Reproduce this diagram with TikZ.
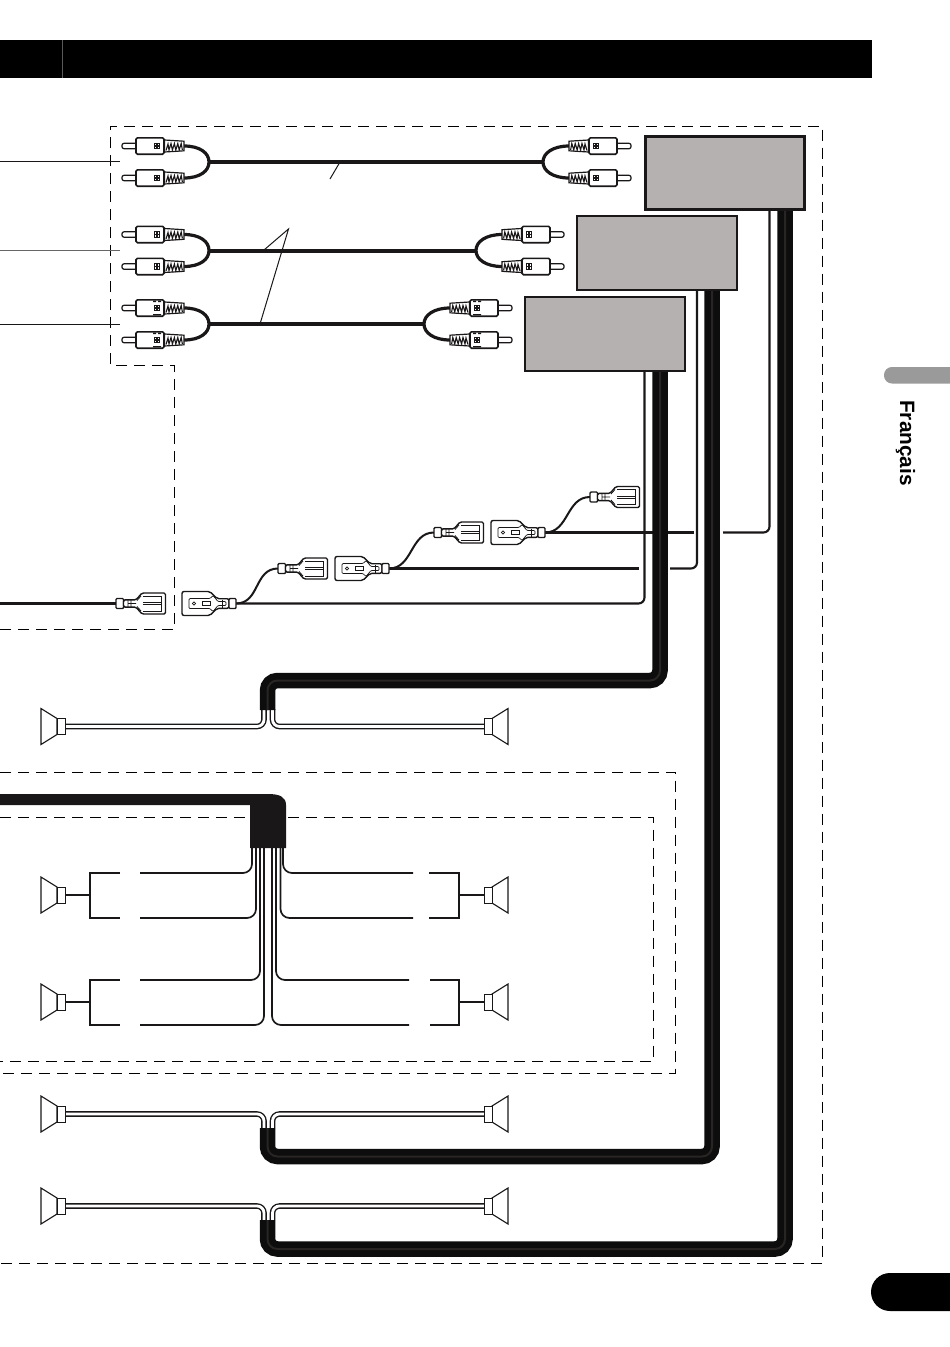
\documentclass[tikz,border=0pt]{standalone}
\usepackage{fontspec}
\setmainfont{Liberation Sans}
\definecolor{ink}{HTML}{1A1718}
\definecolor{ampfill}{HTML}{B5B1B0}
\definecolor{tabgray}{HTML}{9A9A9A}
\definecolor{stripe}{HTML}{282524}
\tikzset{
  ampbox/.style={draw=ink,fill=ampfill,line width=2pt,inner sep=0,outer sep=0,minimum width=160pt,minimum height=74pt,anchor=north west},
  dashline/.style={draw=black,line width=0.9pt,dash pattern=on 11pt off 7pt},
  thinline/.style={draw=ink,line width=1pt},
  hookup/.style={draw=ink,line width=2.1pt,rounded corners=6pt},
  rcacable/.style={draw=ink,line width=3.2pt},
  bigcable/.style={draw=black!95,line width=15.5pt,rounded corners=10pt},
  bigstripe/.style={draw=stripe,line width=2pt,rounded corners=10pt},
  dualout/.style={draw=ink,line width=5.6pt,rounded corners=7pt},
  dualin/.style={draw=white,line width=2.8pt,rounded corners=7pt},
  leadwire/.style={draw=ink,line width=1.7pt,rounded corners=9pt},
  bracket/.style={draw=ink,line width=1.9pt},
  rca/.pic={
    \draw[ink,fill=white,line width=1.2pt,rounded corners=2pt] (-62,-2.7) rectangle (-46,2.7);
    \draw[ink,fill=white,line width=1.6pt,rounded corners=1.5pt] (-48,-8.2) rectangle (-20,8.2);
    \fill[ink] (-30,-3.4) rectangle (-23.6,3.4);
    \foreach \a in {-1.5,1.5}\foreach \b in {-1.5,1.5}\fill[white] (-26.8+\a-.6,\b-.6) rectangle (-26.8+\a+.6,\b+.6);
    \draw[ink,fill=white,line width=1.2pt] (-19.5,-6) -- (0,-4.8) -- (0,4.8) -- (-19.5,6) -- cycle;
    \draw[ink,line width=1.1pt] (-18,4.5) -- (-16,-2) -- (-15,4) -- (-13,-2.5) -- (-11.6,4) -- (-9.6,-2.5) -- (-8.2,4) -- (-6.2,-2.5) -- (-4.8,4) -- (-2.8,-2.5) -- (-1.6,4);
  },
  rcatick/.pic={
    \fill[ink] (-31,-7.4) rectangle (-28,-6) (-26,-7.4) rectangle (-23,-6) (-31,6) rectangle (-23,7.4);
  },
  femalefuse/.pic={
    \draw[ink,fill=white,line width=1.4pt,rounded corners=1pt] (0,-5) rectangle (7.5,5);
    \draw[ink,fill=white,line width=1.4pt,rounded corners=1.5pt]
      (7.5,-3.6) -- (20,-3.6) -- (26,-10.5) -- (49.5,-10.5) -- (49.5,10.5) -- (26,10.5) -- (20,3.6) -- (7.5,3.6) -- cycle;
    \draw[ink,line width=.8pt] (27,-7.5) -- (45,-7.5) -- (45,7.5) -- (27,7.5) (27,-1) -- (45,-1) (27,1) -- (45,1);
    \draw[ink,line width=.8pt] (12,-3.4) -- (12,3.4) (15,-3.4) -- (15,3.4) (21,-3) -- (25,-7.5) (21,3) -- (25,7.5) (12,0) -- (20,0);
  },
  malefuse/.pic={
    \draw[ink,fill=white,line width=1.4pt,rounded corners=2pt]
      (0,-12) -- (28,-12) -- (35,-4.8) -- (47,-4.8) -- (47,4.8) -- (35,4.8) -- (28,12) -- (0,12) -- cycle;
    \draw[ink,fill=white,line width=1.4pt,rounded corners=1pt] (47,-5) rectangle (54,5);
    \draw[ink,line width=.7pt,rounded corners=1pt] (7,-5) -- (28,-5) -- (31,-8) -- (36,-2) -- (44,-2) -- (44,2) -- (36,2) -- (31,8) -- (28,5) -- (7,5) -- cycle;
    \draw[ink,line width=.7pt] (12,0) circle (1.6);
    \draw[ink,line width=.7pt] (20,-2) rectangle (28,2);
    \draw[ink,line width=.7pt] (40,-4) -- (40,4);
  },
  speaker/.pic={
    \draw[ink,fill=white,line width=1.1pt,line join=miter] (0,-18) -- (16,-8) -- (16,8) -- (0,18) -- cycle;
    \draw[ink,fill=white,line width=1pt] (16,-8) rectangle (24,8);
  },
}
\begin{document}
\begin{tikzpicture}[x=1pt,y=-1pt]
\useasboundingbox (0,0) rectangle (950,1347);
% header and page furniture
\node[fill=black,inner sep=0,outer sep=0,minimum width=872pt,minimum height=38pt,anchor=north west] (hdr) at (0,40) {};
\coordinate (hs) at (62.5,40); \coordinate (he) at (62.5,78);
\draw[black!65,line width=.7pt] (hs) -- (he);
\fill[tabgray,rounded corners=7.9pt] (884,367) rectangle (960,383.5);
\fill[black,rounded corners=19pt] (871,1273) rectangle (985,1311);
\node[rotate=-90,anchor=base west,inner sep=0,font=\bfseries\fontsize{20.8}{22}\selectfont] (lang) at (900,400) {Français};
% dashed frames
\coordinate (o1) at (110,365); \coordinate (o2) at (110,126); \coordinate (o3) at (822.5,126); \coordinate (o4) at (822.5,1263);
\coordinate (o5) at (0,1263); \coordinate (o6) at (174.5,365); \coordinate (o7) at (174.5,629); \coordinate (o8) at (0,629);
\draw[dashline] (o8) -- (o7) -- (o6) -- (o1) -- (o2) -- (o3) -- (o4) -- (o5);
\coordinate (p1) at (0,772); \coordinate (p2) at (675.5,772); \coordinate (p3) at (675.5,1073); \coordinate (p4) at (0,1073);
\draw[dashline] (p1) -- (p2) -- (p3) -- (p4);
\coordinate (q1) at (0,817); \coordinate (q2) at (653.5,817); \coordinate (q3) at (653.5,1061); \coordinate (q4) at (0,1061);
\draw[dashline] (q1) -- (q2) -- (q3) -- (q4);
% thin lines into the frame
\coordinate (t1) at (0,161); \coordinate (t1e) at (120,161);
\coordinate (t2) at (0,250); \coordinate (t2e) at (120,250);
\coordinate (t3) at (0,324); \coordinate (t3e) at (120,324);
\draw[thinline] (t1) -- (t1e); \draw[thinline,black!60] (t2) -- (t2e); \draw[thinline] (t3) -- (t3e);
% RCA cables
\foreach \n/\yc/\rx/\lw in {a/162/543/3.2,b/250.5/476/4,c/324/424/3.4}{
  \coordinate (l\n) at (209,\yc);
  \coordinate (r\n) at (\rx,\yc);
  \draw[rcacable,line width=\lw pt] (l\n) -- (r\n);
  \draw[rcacable] (184,\yc-16) .. controls (200,\yc-16) and (209,\yc-9) .. (l\n) .. controls (209,\yc+9) and (200,\yc+16) .. (184,\yc+16);
  \draw[rcacable] (\rx+26,\yc-16) .. controls (\rx+10,\yc-16) and (\rx,\yc-9) .. (r\n) .. controls (\rx,\yc+9) and (\rx+10,\yc+16) .. (\rx+26,\yc+16);
  \pic at (184,\yc-16) {rca};
  \pic at (184,\yc+16) {rca};
  \pic[xscale=-1] at (\rx+26,\yc-16) {rca};
  \pic[xscale=-1] at (\rx+26,\yc+16) {rca};
}
\pic at (184,308) {rcatick}; \pic at (184,340) {rcatick};
\pic[xscale=-1] at (450,308) {rcatick}; \pic[xscale=-1] at (450,340) {rcatick};
% label leaders
\coordinate (k0) at (330,179); \draw[thinline] (k0) -- (340,162);
\coordinate (k1) at (288.5,229); \coordinate (k2) at (264,250); \coordinate (k3) at (260,324);
\draw[thinline] (k2) -- (k1) -- (k3);
% amplifiers
\node[ampbox,line width=3pt,minimum width=159pt,minimum height=73pt] (amp1) at (645,136.5) {};
\node[ampbox] (amp2) at (576.5,216) {};
\node[ampbox] (amp3) at (524.5,297) {};
% hookup wires
\coordinate (w0) at (0,603.5);
\coordinate (f1) at (116,603.5); \coordinate (m1) at (236,603.5);
\coordinate (f2) at (278,568.5); \coordinate (m2) at (389,568.5);
\coordinate (f3) at (434,532.5); \coordinate (m3) at (545,532.5);
\coordinate (f4) at (590,497); 
\draw[hookup] (w0) -- (f1);
\draw[hookup] (m1) -- (644.5,603.5) -- (644.5,371);
\draw[hookup] (m2) -- (639,568.5);
\draw[hookup] (670,568.5) -- (697,568.5) -- (697,290);
\draw[hookup] (m3) -- (694,532.5);
\draw[hookup] (723,532.5) -- (769.5,532.5) -- (769.5,210);
\foreach \a/\b in {m1/f2,m2/f3,m3/f4}{
  \draw[ink,line width=2pt] (\a) .. controls ++(24,0) and ++(-24,0) .. (\b);
}
\pic at (f1) {femalefuse}; \pic at (f2) {femalefuse}; \pic at (f3) {femalefuse}; \pic at (f4) {femalefuse};
\pic at (182,603.5) {malefuse}; \pic at (335,568.5) {malefuse}; \pic at (491,532.5) {malefuse};
% speakers with double wires
\foreach \ys/\jy in {726.5/709,1114/1128,1206/1220}{
  \coordinate (sl) at (65,\ys); \coordinate (sr) at (484,\ys);
  \coordinate (jl) at (264,\jy); \coordinate (jr) at (272.5,\jy);
  \draw[dualout] (sl) -| (jl); \draw[dualin] (sl) -| (jl);
  \draw[dualout] (sr) -| (jr); \draw[dualin] (sr) -| (jr);
  \pic at (41,\ys) {speaker};
  \pic[xscale=-1] at (508,\ys) {speaker};
}
% speaker cables
\foreach \x/\top/\yb/\ye in {660/371/680.5/710,712/290/1156.5/1128,785/210/1249/1220}{
  \coordinate (ca) at (\x,\top); \coordinate (cb) at (\x,\yb); \coordinate (cc) at (267.5,\yb); \coordinate (cd) at (267.5,\ye);
  \draw[bigcable] (ca) -- (cb) -- (cc) -- (cd);
  \draw[bigstripe] (ca) -- (cb) -- (cc) -- (cd);
}
% amp frames redrawn over cable tops
\draw[ink,line width=3pt] (amp1.south west) -- (amp1.south east);
\draw[ink,line width=2pt] (amp2.south west) -- (amp2.south east);
\draw[ink,line width=2pt] (amp3.south west) -- (amp3.south east);
% centre junction
\foreach \x/\y/\xe in {252/873/140,256/918/140,260/980/140,264/1025/140,283/873/413,280.5/918/413,276/980/409,272/1025/409}{
  \coordinate (wa) at (\x,846); \coordinate (wb) at (\xe,\y);
  \draw[leadwire] (wa) |- (wb);
}
\fill[ink] (0,794) -- (268,794) .. controls (280,794) and (286,797) .. (286,805) -- (286,848) -- (250,848) -- (250,805) -- (0,805) -- cycle;
% brackets and speakers
\foreach \yc/\ya/\yb/\ra/\rb in {895/873/918/429/429,1002/980/1025/430/430}{
  \coordinate (sl) at (65,\yc); \coordinate (bl) at (90,\yc);
  \coordinate (sr) at (484,\yc); \coordinate (br) at (459,\yc);
  \draw[bracket] (sl) -- (bl);
  \draw[bracket] (120,\ya) -- (90,\ya) -- (90,\yb) -- (120,\yb);
  \draw[bracket] (sr) -- (br);
  \draw[bracket] (\ra,\ya) -- (459,\ya) -- (459,\yb) -- (\rb,\yb);
  \pic at (41,\yc) {speaker};
  \pic[xscale=-1] at (508,\yc) {speaker};
}
\end{tikzpicture}
\end{document}
